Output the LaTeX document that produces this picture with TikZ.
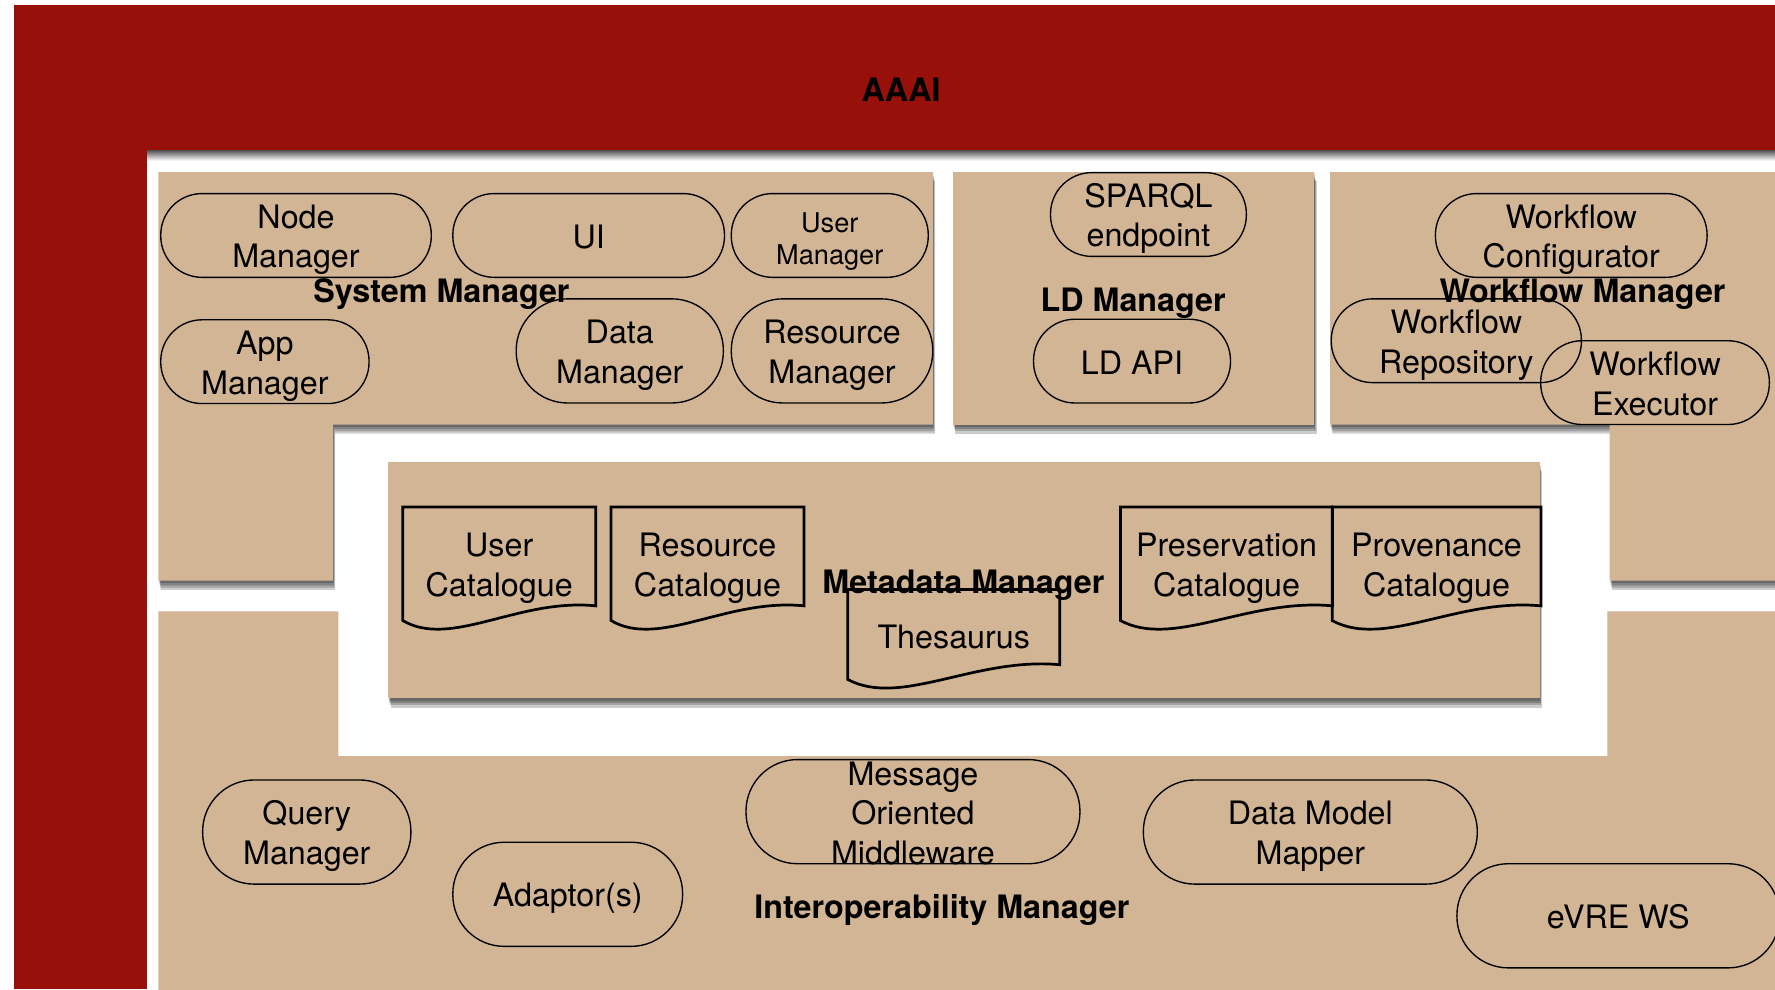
\documentclass[tikz,border=0pt]{standalone}
\usepackage{fontspec}
\setmainfont{TeX Gyre Heros}
\usetikzlibrary{calc}
\definecolor{aaaired}{RGB}{151,17,10}
\definecolor{boxtan}{RGB}{210,181,148}
\newcommand\fs[2]{\fontsize{#1}{#2}\selectfont}
\newcommand\Tt{\rule{0pt}{28.5pt}}
\newcommand\Bt{\rule[-5.5pt]{0pt}{5.5pt}}
\newcommand\Td{\rule{0pt}{29pt}}
\newcommand\Bd{\rule[-5pt]{0pt}{5pt}}
\tikzset{
  panel/.style={fill=boxtan,
    preaction={fill=black,fill opacity=0.2,transform canvas={xshift=0.5pt,yshift=-2pt}},
    preaction={fill=black,fill opacity=0.2,transform canvas={xshift=1pt,yshift=-4pt}},
    preaction={fill=black,fill opacity=0.2,transform canvas={xshift=1.5pt,yshift=-6pt}},
    preaction={fill=black,fill opacity=0.2,transform canvas={xshift=2pt,yshift=-8pt}}},
  lab/.style={font=\bfseries\fs{28.5}{34}, inner sep=0pt},
  pill/.style={draw=black, line width=1.2pt, inner sep=0pt, align=center, font=\fs{28.5}{35}},
  pillS/.style={pill, minimum height=74pt, rounded corners=36.5pt},
  pillL/.style={pill, minimum height=92pt, rounded corners=45.5pt},
  ptext/.style={inner sep=0pt, align=center, font=\fs{28.5}{35}},
  doc/.style={inner sep=0pt, align=center, font=\fs{28.5}{35}},
  docline/.style={draw=black, line width=2.4pt, line join=miter},
}
\newcommand\wavydoc[1]{\draw[docline] (#1.north west) -- (#1.north east) -- ($(#1.south east)+(0,-13)$)
  .. controls ($(#1.south west)!0.6!(#1.south east)+(0,-20)$) and ($(#1.south west)!0.25!(#1.south east)+(0,25)$)
  .. (#1.south west) -- cycle;}
\begin{document}
\begin{tikzpicture}[x=1pt,y=-1pt]
\useasboundingbox (0,0) rectangle (1568,874);
\fill[white] (0,0) rectangle (1568,874);
\fill[aaaired] (12,4) rectangle (1568,874);
\fill[white] (130,133) rectangle (1568,874);
\shade[top color=black!65, bottom color=white] (130,133) rectangle (1568,142);
\node[lab] (aaai) at (796,78) {\Tt AAAI\Bt};

% panels
\path[panel] (140,152) -- (824,152) -- (824,375) -- (294,375) -- (294,513) -- (140,513) -- cycle;
\path[panel] (842,152) rectangle (1161,375);
\path[panel] (1175,152) -- (1575,152) -- (1575,513) -- (1422,513) -- (1422,375) -- (1175,375) -- cycle;
\path[panel] (343,408) rectangle (1360,617);
\fill[boxtan] (140,540) -- (299,540) -- (299,668) -- (1420,668) -- (1420,540) -- (1575,540) -- (1575,880) -- (140,880) -- cycle;

% labels
\node[lab] (sysm) at (390,256) {\Tt System Manager\Bt};
\node[lab] (ldm) at (1001,264) {\Tt LD Manager\Bt};
\node[lab] (wfm) at (1398,256) {\Tt Workflow Manager\Bt};
\node[lab] (mdm) at (851,513) {\Tt Metadata Manager\Bt};
\node[lab] (iom) at (832,800) {\Tt Interoperability Manager\Bt};

% system manager
\node[pillS, minimum width=239pt] (nm) at (261.5,208) {\Tt Node\\Manager\Bt};
\node[pillS, minimum width=240pt] (ui) at (520,208) {\Tt UI\Bt};
\node[pillS, minimum width=174pt, font=\fs{24}{29}] (um) at (733,208) {\Tt User\\Manager\Bt};
\node[pillS, minimum width=184pt] (am) at (234,319.5) {\Tt App\\Manager\Bt};
\node[pillL, minimum width=183pt] (dm) at (547.5,310) {\Tt Data\\Manager\Bt};
\node[pillL, minimum width=178pt] (rm) at (735,310) {\Tt Resource\\Manager\Bt};

% LD manager
\node[pillS, minimum width=173pt] (sparql) at (1014.5,189.5) {\Tt SPARQL\\endpoint\Bt};
\node[pillS, minimum width=174pt] (ldapi) at (1000,319) {\Tt LD API\Bt};

% workflow manager
\node[pillS, minimum width=240pt] (wc) at (1388,208) {\Tt Workflow\\Configurator\Bt};
\node[pillS, minimum width=221pt] (wr) at (1286.5,301) {\Tt Workflow\\Repository\Bt};
\node[pillS, minimum width=202pt] (we) at (1462,338) {\Tt Workflow\\Executor\Bt};

% metadata manager
\node[doc, minimum width=170pt, minimum height=100pt] (uc) at (441,498) {\Td User\\Catalogue\Bd};
\node[doc, minimum width=170pt, minimum height=100pt] (rc) at (625,498) {\Td Resource\\Catalogue\Bd};
\node[doc, minimum width=187pt, minimum height=100pt] (pc) at (1083.5,498) {\Td Preservation\\Catalogue\Bd};
\node[doc, minimum width=184pt, minimum height=100pt] (prc) at (1269,498) {\Td Provenance\\Catalogue\Bd};
\node[doc, minimum width=187pt, minimum height=79pt] (th) at (842.5,560.5) {\Td Thesaurus\Bd};
\wavydoc{uc}
\wavydoc{rc}
\wavydoc{pc}
\wavydoc{prc}
\wavydoc{th}

% interoperability manager
\node[pillL, minimum width=184pt] (qm) at (271,735) {\Tt Query\\Manager\Bt};
\node[pillL, minimum width=203pt] (ad) at (501.5,790) {\Tt Adaptor(s)\Bt};
\node[pillL, minimum width=295pt] (mom) at (806.5,717) {};
\node[ptext] (momt) at (mom.center) {\Tt Message\\Oriented\\Middleware\Bt};
\node[pillL, minimum width=295pt] (dmm) at (1157.5,735) {\Tt Data Model\\Mapper\Bt};
\node[pillL, minimum width=285pt] (evre) at (1429.5,809) {\Tt eVRE WS\Bt};
\end{tikzpicture}
\end{document}
